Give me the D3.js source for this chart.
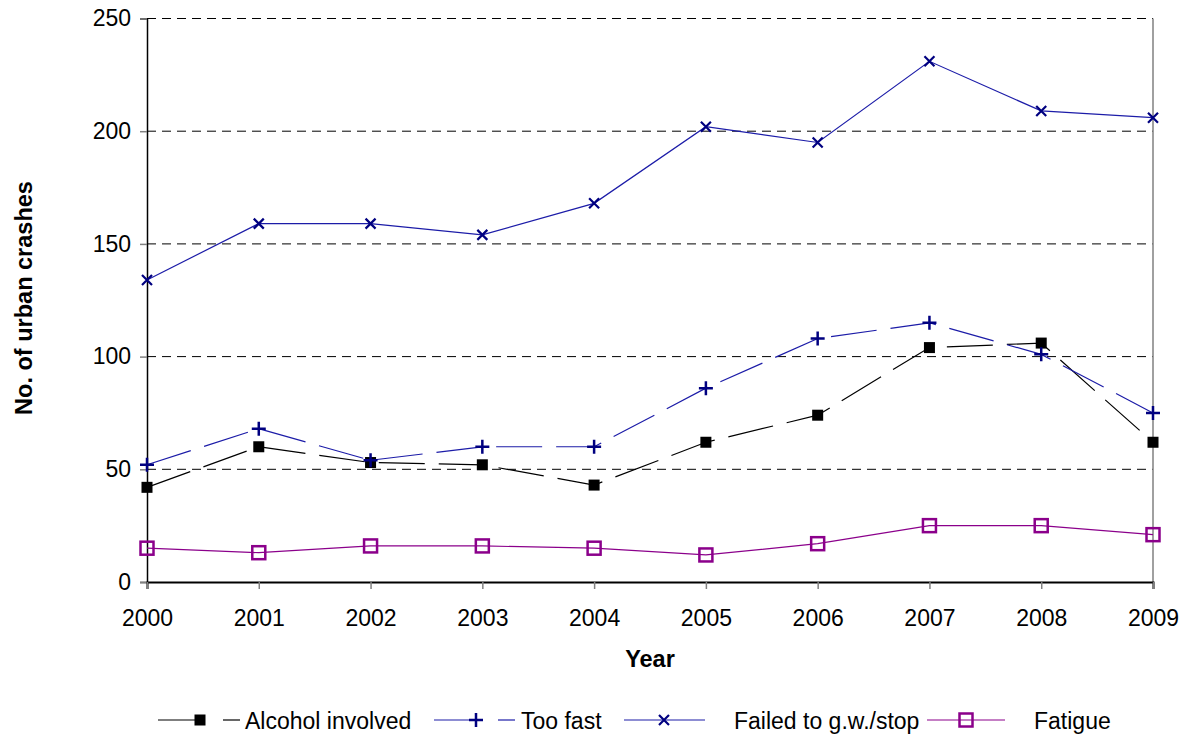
<!DOCTYPE html>
<html><head><meta charset="utf-8">
<script src="https://cdn.jsdelivr.net/npm/d3@7"></script>
<style>body{margin:0;background:#fff}text{font-family:"Liberation Sans",Arial,sans-serif}</style>
</head><body><svg id="c" width="1185" height="735"></svg>
<script>
const years = [2000,2001,2002,2003,2004,2005,2006,2007,2008,2009];
const alcohol = [42,60,53,52,43,62,74,104,106,62];
const tooFast = [52,68,54,60,60,86,108,115,101,75];
const failed = [134,159,159,154,168,202,195,231,209,206];
const fatigue = [15,13,16,16,15,12,17,25,25,21];
const yTicks = [0,50,100,150,200,250];
const seriesNames = ["Alcohol involved","Too fast","Failed to g.w./stop","Fatigue"];

const svg = d3.select("#c");
const L=147,R=1153,T=18.5,B=582;
const x = d3.scaleLinear().domain([2000,2009]).range([L,R]);
const y = d3.scaleLinear().domain([0,250]).range([B,T]);
const FF = "Liberation Sans, Arial, sans-serif";

// grid
svg.append("g").selectAll("line").data(yTicks.filter(d=>d>0)).join("line")
  .attr("x1",L).attr("x2",R).attr("y1",d=>y(d)).attr("y2",d=>y(d))
  .attr("stroke","#000").attr("stroke-width",1).attr("stroke-dasharray","9,6");
// right border
svg.append("line").attr("x1",R).attr("x2",R).attr("y1",T).attr("y2",B).attr("stroke","#808080").attr("stroke-width",1.5);

// axes
const yAxis = svg.append("g").attr("transform",`translate(${L},0)`)
  .call(d3.axisLeft(y).tickValues(yTicks).tickSize(7).tickPadding(9).tickFormat(d3.format("d")));
yAxis.select(".domain").attr("stroke","#000").attr("stroke-width",1.5);
yAxis.selectAll(".tick line").attr("stroke","#808080").attr("stroke-width",1.5);
yAxis.selectAll("text").attr("font-size",23).attr("fill","#000").style("font-family",FF);

const xAxis = svg.append("g").attr("transform",`translate(0,${B})`)
  .call(d3.axisBottom(x).tickValues(years).tickSize(7).tickPadding(10).tickFormat(d3.format("d")));
xAxis.select(".domain").attr("stroke","#000").attr("stroke-width",2);
xAxis.selectAll(".tick line").attr("stroke","#808080").attr("stroke-width",1.5);
xAxis.selectAll("text").attr("font-size",23).attr("fill","#000").style("font-family",FF)
  .attr("dy",null).attr("y",44);

svg.append("text").attr("x",650).attr("y",667).attr("text-anchor","middle")
  .attr("font-size",23.5).attr("font-weight","bold").text("Year");
svg.append("text").attr("transform","translate(32,298) rotate(-90)").attr("text-anchor","middle")
  .attr("font-size",23.5).attr("font-weight","bold").text("No. of urban crashes");

const series = [
  {name:seriesNames[0], vals:alcohol, color:"#000", dash:"46,14", marker:"fsq"},
  {name:seriesNames[1], vals:tooFast, color:"#1c1ca8", mcolor:"#000080", dash:"46,14", marker:"plus"},
  {name:seriesNames[2], vals:failed, color:"#1c1ca8", mcolor:"#000080", dash:null, marker:"x"},
  {name:seriesNames[3], vals:fatigue, color:"#8b008b", mcolor:"#8b008b", dash:null, marker:"osq"}
];
const line = d3.line().x((d,i)=>x(years[i])).y(d=>y(d));

function drawMarker(g, type, cx, cy, col){
  if(type==="fsq") g.append("rect").attr("x",cx-5.5).attr("y",cy-5.5).attr("width",11).attr("height",11).attr("fill","#000");
  else if(type==="osq") g.append("rect").attr("x",cx-6.5).attr("y",cy-6.5).attr("width",13).attr("height",13).attr("fill","none").attr("stroke",col).attr("stroke-width",2.5);
  else if(type==="plus") g.append("path").attr("d",`M${cx-7},${cy}H${cx+7}M${cx},${cy-7}V${cy+7}`).attr("stroke",col).attr("stroke-width",2.5);
  else if(type==="x") g.append("path").attr("d",`M${cx-5},${cy-5}L${cx+5},${cy+5}M${cx-5},${cy+5}L${cx+5},${cy-5}`).attr("stroke",col).attr("stroke-width",2.2);
}

series.forEach(s=>{
  const g = svg.append("g");
  g.append("path").datum(s.vals).attr("d",line).attr("fill","none")
    .attr("stroke",s.color).attr("stroke-width",1.2).attr("stroke-dasharray",s.dash);
  s.vals.forEach((v,i)=>drawMarker(g,s.marker,x(years[i]),y(v),s.mcolor||s.color));
});

// legend
const leg = [
  {lx1:158,lx2:240,mx:200,tx:245},
  {lx1:434,lx2:515,mx:476,tx:521},
  {lx1:624,lx2:705,mx:664,tx:734},
  {lx1:927,lx2:1005,mx:966,tx:1034}
];
const ly=720;
series.forEach((s,i)=>{
  const p=leg[i], g=svg.append("g");
  if(s.dash){
    g.append("line").attr("x1",p.lx1).attr("x2",p.mx).attr("y1",ly).attr("y2",ly).attr("stroke",s.color).attr("stroke-width",1.2);
    g.append("line").attr("x1",p.lx2-17).attr("x2",p.lx2).attr("y1",ly).attr("y2",ly).attr("stroke",s.color).attr("stroke-width",1.2);
  } else {
    g.append("line").attr("x1",p.lx1).attr("x2",p.lx2).attr("y1",ly).attr("y2",ly).attr("stroke",s.color).attr("stroke-width",1.2);
  }
  drawMarker(g,s.marker,p.mx,ly,s.mcolor||s.color);
  g.append("text").attr("x",p.tx).attr("y",ly+8.5).attr("font-size",23).text(s.name);
});
</script></body></html>
